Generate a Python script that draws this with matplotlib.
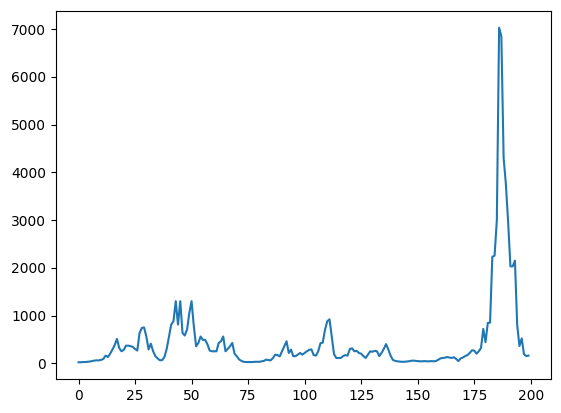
import numpy as np
import matplotlib
matplotlib.use('Agg')
import matplotlib.pyplot as plt

# values, one per step (200 points)
vals_0_49 = [20, 20, 25, 25, 30, 35, 45, 55, 60, 60,
             70, 90, 160, 130, 200, 285, 380, 509, 320, 250,
             280, 368, 368, 360, 340, 300, 265, 635, 740, 750,
             560, 290, 410, 250, 150, 100, 62, 65, 130, 300,
             560, 810, 880, 1300, 810, 1300, 635, 580, 705, 1050]
vals_50_99 = [1300, 775, 355, 425, 560, 490, 490, 400, 265, 250,
              250, 250, 425, 460, 560, 250, 300, 355, 425, 200,
              145, 80, 50, 30, 25, 25, 25, 25, 30, 30,
              30, 40, 50, 75, 65, 60, 110, 180, 170, 145,
              250, 355, 460, 215, 285, 145, 150, 180, 215, 180]
vals_100_149 = [215, 250, 280, 290, 170, 160, 250, 420, 430, 700,
                880, 920, 560, 190, 110, 110, 110, 150, 170, 160,
                300, 310, 250, 260, 215, 200, 150, 110, 180, 250,
                240, 260, 250, 150, 215, 300, 400, 290, 160, 70,
                50, 40, 35, 30, 30, 35, 40, 50, 55, 50]
vals_150_199 = [45, 40, 40, 45, 40, 40, 45, 40, 45, 70,
                100, 110, 115, 130, 120, 110, 125, 90, 45, 100,
                120, 150, 170, 215, 270, 265, 200, 250, 320, 718,
                440, 845, 850, 2230, 2255, 3000, 7030, 6850, 4300, 3750,
                2950, 2030, 2030, 2150, 800, 360, 520, 190, 150, 160]

values = np.array(vals_0_49 + vals_50_99 + vals_100_149 + vals_150_199)
steps = np.arange(len(values))

fig = plt.figure(figsize=(5.61, 4.13), dpi=100)
ax = fig.add_axes([56 / 561, 34 / 413, 495 / 561, 368 / 413])

ax.plot(steps, values)

fig.savefig("out.png", dpi=100)
